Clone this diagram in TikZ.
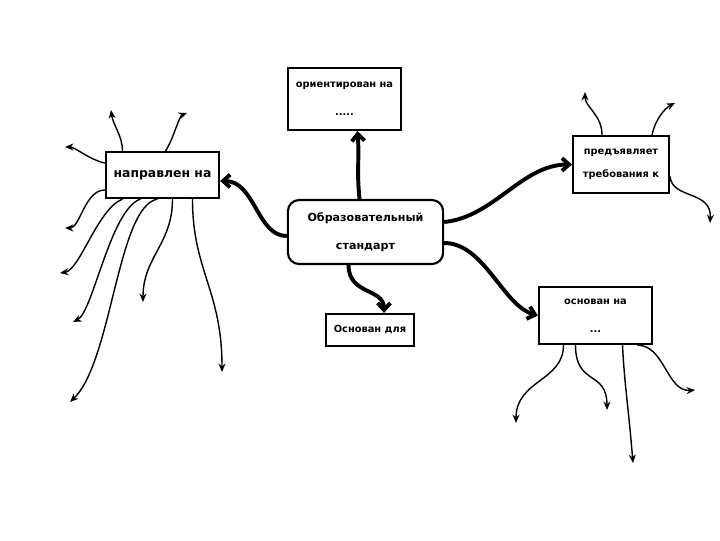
\documentclass[tikz,border=0pt]{standalone}
\usepackage{fontspec}
\setmainfont{DejaVu Sans}
\usepackage{tikz}
\usetikzlibrary{arrows.meta,calc}

\begin{document}
\begin{tikzpicture}[x=0.025cm,y=-0.025cm,
    box/.style={draw,line width=1.5pt,inner sep=0pt,align=center,font=\bfseries\fontsize{7}{20}\selectfont},
    main/.style={line width=2.8pt,-{Straight Barb[length=5pt,width=9pt]}},
    branch/.style={line width=1pt,-{Stealth[length=6pt,width=5pt]}}]
        \useasboundingbox (0,0) rectangle (720,540);
        \node[box,minimum width=2.83cm,minimum height=1.55cm] (ori) at (344.5,99) {ориентирован на\\.....};
        \node[box,minimum width=2.83cm,minimum height=1.15cm,font=\bfseries\fontsize{8.8}{10}\selectfont] (nap) at (162.5,175) {направлен на};
        \node[box,rounded corners=8pt,minimum width=3.88cm,minimum height=1.6cm,font=\bfseries\fontsize{7.9}{20}\selectfont] (cen) at (365.5,232) {Образовательный\\стандарт};
        \node[box,minimum width=2.2cm,minimum height=0.8cm] (osd) at (370,330) {Основан для};
        \node[box,minimum width=2.4cm,minimum height=1.43cm,font=\bfseries\fontsize{7}{16}\selectfont] (pre) at (621,164.5) {предъявляет\\требования к};
        \node[box,minimum width=2.83cm,minimum height=1.43cm] (osn) at (595.5,315.5) {основан на\\...};
        \foreach \n/\x/\y in {a1/111/110, a2/187/113, a3/65/147, a4/65/228, a5/60/273, a6/73/322,
            a7/70/402, a8/143/302, a9/222/372, b1/585/92, b2/675/103, b3/710/223,
            c1/516/423, c2/607/410, c3/633/463, c4/695/390}
          \coordinate (\n) at (\x,\y);
        \draw[main] ($(cen.north)+(-6,0)$) .. controls +(-3,-30) and +(2,30) .. ($(ori.south)+(13,0)$);
        \draw[main] ($(cen.west)+(0,4)$) .. controls +(-30,0) and +(35,0) .. ($(nap.east)+(0,6)$);
        \draw[main] ($(cen.east)+(0,-10)$) .. controls +(50,-5) and +(-50,0) .. (pre.west);
        \draw[main] ($(cen.east)+(0,11)$) .. controls +(40,0) and +(-35,-10) .. (osn.west);
        \draw[main] ($(cen.south)+(-17,0)$) .. controls +(0,30) and +(0,-25) .. ($(osd.north)+(14,0)$);
        \draw[branch] ($(nap.north)+(-40,0)$) .. controls +(0,-15) and +(2,15) .. (a1);
        \draw[branch] ($(nap.north)+(3,0)$) .. controls +(8,-12) and +(-8,3) .. (a2);
        \draw[branch] ($(nap.west)+(0,-12)$) .. controls +(-15,-3) and +(10,0) .. (a3);
        \draw[branch] ($(nap.west)+(0,15)$) .. controls +(-20,0) and +(15,0) .. (a4);
        \draw[branch] ($(nap.south)+(-40,0)$) .. controls +(-25,10) and +(20,-3) .. (a5);
        \draw[branch] ($(nap.south)+(-22,0)$) .. controls +(-30,10) and +(20,-10) .. (a6);
        \draw[branch] ($(nap.south)+(-5,0)$) .. controls +(-40,7) and +(42,-40) .. (a7);
        \draw[branch] ($(nap.south)+(10,0)$) .. controls +(0,45) and +(0,-45) .. (a8);
        \draw[branch] ($(nap.south)+(30,0)$) .. controls +(0,72) and +(0,-82) .. (a9);
        \draw[branch] ($(pre.north)+(-19,0)$) .. controls +(0,-20) and +(0,15) .. (b1);
        \draw[branch] ($(pre.north)+(31,0)$) .. controls +(3,-15) and +(-10,5) .. (b2);
        \draw[branch] ($(pre.east)+(0,12)$) .. controls +(2,23) and +(2,-33) .. (b3);
        \draw[branch] ($(osn.south)+(-32,0)$) .. controls +(0,36) and +(0,-43) .. (c1);
        \draw[branch] ($(osn.south)+(-20,0)$) .. controls +(0,41) and +(0,-40) .. (c2);
        \draw[branch] ($(osn.south)+(27,0)$) .. controls +(2,40) and +(-5,-60) .. (c3);
        \draw[branch] ($(osn.south)+(42,0)$) .. controls +(27,0) and +(-28,2) .. (c4);
      \end{tikzpicture}
\end{document}
